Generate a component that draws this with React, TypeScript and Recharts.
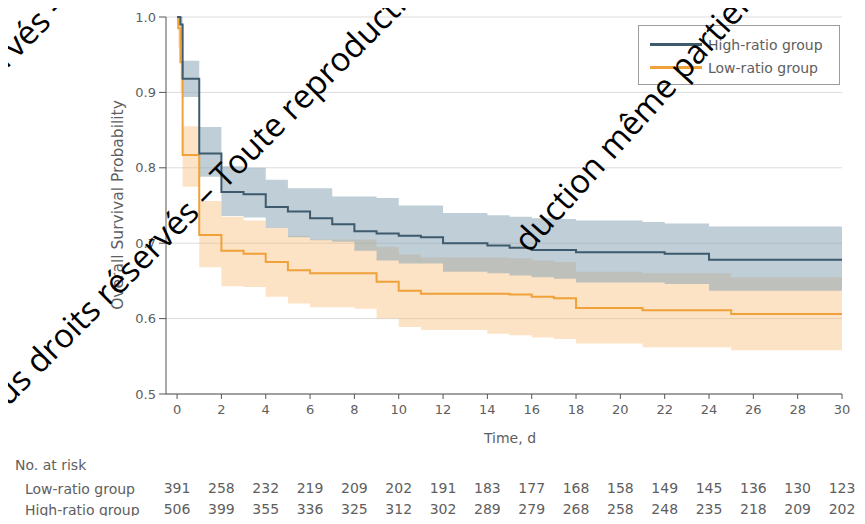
import React from "react"
import { ComposedChart, Area, Line, XAxis, YAxis, CartesianGrid, Legend } from "recharts"

// Kaplan-Meier estimates (step changes, carried forward)
const days = [0, 0.05, 0.15, 0.25, 1, 2, 3, 4, 5, 6, 7, 8, 9, 10, 11, 12, 14, 15, 16, 17, 18, 21, 22, 24, 25, 30]
const highSurv = [1.0, 1.0, 0.99, 0.918, 0.819, 0.768, 0.765, 0.748, 0.742, 0.733, 0.725, 0.716, 0.713, 0.71, 0.708, 0.7, 0.697, 0.694, 0.691, 0.691, 0.688, 0.688, 0.686, 0.678, 0.678, 0.678]
const highLower = [1.0, 0.99, 0.97, 0.894, 0.788, 0.736, 0.734, 0.72, 0.708, 0.704, 0.702, 0.69, 0.677, 0.673, 0.673, 0.662, 0.66, 0.657, 0.655, 0.653, 0.648, 0.648, 0.646, 0.637, 0.637, 0.637]
const highUpper = [1.0, 1.0, 1.0, 0.942, 0.854, 0.802, 0.8, 0.784, 0.773, 0.773, 0.762, 0.762, 0.76, 0.75, 0.75, 0.74, 0.737, 0.735, 0.733, 0.732, 0.73, 0.728, 0.726, 0.722, 0.722, 0.722]
const lowSurv = [1.0, 0.985, 0.94, 0.817, 0.711, 0.69, 0.686, 0.675, 0.664, 0.66, 0.66, 0.66, 0.649, 0.637, 0.633, 0.633, 0.633, 0.632, 0.629, 0.627, 0.614, 0.611, 0.611, 0.611, 0.606, 0.606]
const lowLower = [1.0, 0.96, 0.9, 0.775, 0.668, 0.643, 0.642, 0.629, 0.62, 0.615, 0.615, 0.613, 0.6, 0.589, 0.585, 0.585, 0.58, 0.578, 0.575, 0.573, 0.567, 0.562, 0.562, 0.562, 0.558, 0.558]
const lowUpper = [1.0, 1.0, 0.975, 0.855, 0.756, 0.735, 0.73, 0.72, 0.71, 0.705, 0.705, 0.705, 0.695, 0.685, 0.681, 0.681, 0.681, 0.68, 0.677, 0.675, 0.662, 0.66, 0.66, 0.66, 0.655, 0.655]

const dayTicks = [0, 2, 4, 6, 8, 10, 12, 14, 16, 18, 20, 22, 24, 26, 28, 30]
const probTicks = [0.5, 0.6, 0.7, 0.8, 0.9, 1.0]
const lowAtRisk = [391, 258, 232, 219, 209, 202, 191, 183, 177, 168, 158, 149, 145, 136, 130, 123]
const highAtRisk = [506, 399, 355, 336, 325, 312, 302, 289, 279, 268, 258, 248, 235, 218, 209, 202]

const BLUE = "#3e5a6d"
const ORANGE = "#f0a13a"
const TEXT = "#5e5e5e"

const legendItems = [
  { name: "High-ratio group", color: BLUE },
  { name: "Low-ratio group", color: ORANGE },
]

const watermark = [
  { text: "Tous droits réservés – Toute reproduction même partielle", x: -19, y: 434, angle: -45, anchor: "start" },
  { text: "duction même partielle", x: 529, y: 254, angle: -48, anchor: "start" },
  { text: "droits réservés –", x: 70, y: 6, angle: -45, anchor: "end" },
]

const rows = days.map((t, i) => ({
  t,
  high: highSurv[i],
  highBand: [highLower[i], highUpper[i]],
  low: lowSurv[i],
  lowBand: [lowLower[i], lowUpper[i]],
}))

function KmLegend() {
  return (
    <div
      style={{
        width: 202,
        height: 60,
        boxSizing: "border-box",
        border: "1px solid #9c9c9c",
        background: "#fff",
        padding: "7px 0 0 11px",
      }}
    >
      {legendItems.map((item) => (
        <div key={item.name} style={{ display: "flex", alignItems: "center", height: 23 }}>
          <span style={{ display: "inline-block", width: 52, borderTop: `3px solid ${item.color}`, marginRight: 6 }} />
          <span style={{ fontSize: 14, color: TEXT }}>{item.name}</span>
        </div>
      ))}
    </div>
  )
}

export default function App() {
  const tickStyle = { fill: TEXT, fontSize: 13 }
  const riskStyle = { fill: TEXT, fontSize: 14 }
  return (
    <div style={{ position: "relative", width: 865, height: 524, margin: -8, fontFamily: "'DejaVu Sans', sans-serif" }}>
      <ComposedChart width={865} height={524} data={rows} margin={{ top: 17, right: 23, bottom: 8, left: 106 }}>
        <CartesianGrid vertical={false} stroke="#dcdcdc" />
        <XAxis
          dataKey="t"
          type="number"
          domain={[-0.5, 30]}
          ticks={dayTicks}
          height={80}
          tickSize={5}
          tickMargin={6}
          stroke="#555"
          tick={tickStyle}
          label={{ value: "Time, d", position: "insideTop", offset: 39, dx: 6, fill: TEXT, fontSize: 14 }}
        />
        {/* number-at-risk rows, ids chosen so the low-ratio row sits first */}
        <XAxis
          xAxisId="risk1"
          dataKey="t"
          type="number"
          domain={[-0.5, 30]}
          ticks={dayTicks}
          height={21}
          axisLine={false}
          tickLine={false}
          tickSize={0}
          tickMargin={9}
          tick={riskStyle}
          tickFormatter={(v: number) => String(lowAtRisk[dayTicks.indexOf(v)])}
        />
        <XAxis
          xAxisId="risk2"
          dataKey="t"
          type="number"
          domain={[-0.5, 30]}
          ticks={dayTicks}
          height={21}
          axisLine={false}
          tickLine={false}
          tickSize={0}
          tickMargin={9}
          tick={riskStyle}
          tickFormatter={(v: number) => String(highAtRisk[dayTicks.indexOf(v)])}
        />
        <YAxis
          domain={[0.5, 1.0]}
          ticks={probTicks}
          width={60}
          tickSize={7}
          tickMargin={3}
          stroke="#555"
          tick={tickStyle}
          tickFormatter={(v: number) => v.toFixed(1)}
        />
        <Area dataKey="lowBand" type="stepAfter" stroke="none" fill="#f9b870" fillOpacity={0.4} isAnimationActive={false} />
        <Area dataKey="highBand" type="stepAfter" stroke="none" fill="#7f9db0" fillOpacity={0.5} isAnimationActive={false} />
        <Line dataKey="low" type="stepAfter" stroke={ORANGE} strokeWidth={2} dot={false} isAnimationActive={false} />
        <Line dataKey="high" type="stepAfter" stroke={BLUE} strokeWidth={2} dot={false} isAnimationActive={false} />
        <Legend
          layout="vertical"
          align="center"
          verticalAlign="middle"
          content={() => <KmLegend />}
          wrapperStyle={{ position: "absolute", top: 25, left: 638, width: 202, height: 60 }}
        />
      </ComposedChart>
      <svg width={865} height={524} style={{ position: "absolute", left: 0, top: 0, pointerEvents: "none" }}>
        <text x={118} y={205} transform="rotate(-90 118 205)" textAnchor="middle" dominantBaseline="central" fill={TEXT} fontSize={15.5}>
          Overall Survival Probability
        </text>
        <text x={15} y={465} dominantBaseline="central" fill={TEXT} fontSize={14}>No. at risk</text>
        <text x={25} y={489} dominantBaseline="central" fill={TEXT} fontSize={14}>Low-ratio group</text>
        <text x={25} y={510} dominantBaseline="central" fill={TEXT} fontSize={14}>High-ratio group</text>
        {watermark.map((w) => (
          <text
            key={w.text}
            x={w.x}
            y={w.y}
            transform={`rotate(${w.angle} ${w.x} ${w.y})`}
            textAnchor={w.anchor}
            fontFamily="'Open Sans', sans-serif"
            fontSize={33}
            fill="#000"
          >
            {w.text}
          </text>
        ))}
      </svg>
    </div>
  )
}
